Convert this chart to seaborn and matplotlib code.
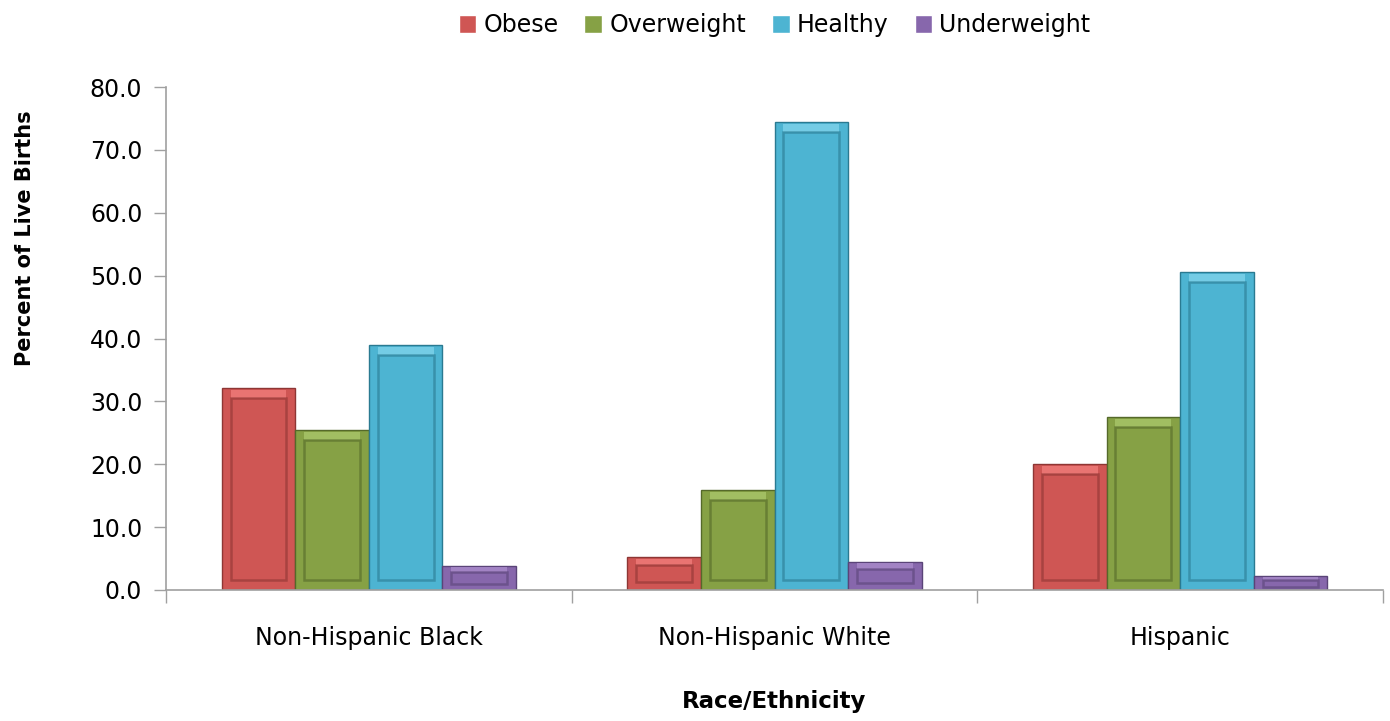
import pandas as pd
import matplotlib.pyplot as plt
import matplotlib.patches as mpatches
import seaborn as sns

# --- Data ---
groups = ["Non-Hispanic Black", "Non-Hispanic White", "Hispanic"]
categories = ["Obese", "Overweight", "Healthy", "Underweight"]
obese = [32.1, 5.2, 20.0]
overweight = [25.4, 15.9, 27.5]
healthy = [39.0, 74.4, 50.6]
underweight = [3.8, 4.5, 2.2]

colors = ["#CF5654", "#86A145", "#4DB4D2", "#8767AC"]
edge_dark = ["#8E3634", "#55692A", "#2A7A91", "#5A4478"]
light = ["#F07C7A", "#A9C66A", "#7ED3EA", "#A98BCB"]

df = pd.DataFrame({
    "Race/Ethnicity": groups * 4,
    "Category": [c for c in categories for _ in groups],
    "Percent": obese + overweight + healthy + underweight,
})

sns.set_style("white")
plt.rcParams["font.family"] = ["DejaVu Sans"]
plt.rcParams["text.color"] = "black"
plt.rcParams["axes.labelcolor"] = "black"
plt.rcParams["xtick.labelcolor"] = "black"
plt.rcParams["ytick.labelcolor"] = "black"

fig = plt.figure(figsize=(13.9, 7.21), dpi=100)
ax = fig.add_axes([0.1194, 0.1817, 0.8756, 0.6976])

sns.barplot(data=df, x="Race/Ethnicity", y="Percent", hue="Category",
            order=groups, hue_order=categories, palette=colors,
            width=0.725, gap=0, ax=ax, saturation=1, legend=True)

# --- fake bevel: inset frame on each bar ---
for container, dark, lt in zip(ax.containers, edge_dark, light):
    for p in container.patches:
        p.set_edgecolor(dark)
        p.set_linewidth(1.0)
        x0, w, h = p.get_x(), p.get_width(), p.get_height()
        inset_x = w * 0.12
        inset_y = min(1.6, h * 0.25)
        top = mpatches.Rectangle((x0 + inset_x, h - inset_y), w - 2 * inset_x,
                                 inset_y * 0.8, facecolor=lt, edgecolor="none",
                                 alpha=0.8, zorder=p.get_zorder() + 0.05)
        ax.add_patch(top)
        inner = mpatches.Rectangle((x0 + inset_x, inset_y), w - 2 * inset_x,
                                   max(h - 2 * inset_y, 0), fill=False,
                                   edgecolor=dark, linewidth=1.8, alpha=0.6,
                                   zorder=p.get_zorder() + 0.1)
        ax.add_patch(inner)

ax.set_ylim(0, 80)
ax.set_xlim(-0.5, 2.5)
ax.set_yticks(range(0, 81, 10))
ax.set_yticklabels([f"{v:.1f}" for v in range(0, 81, 10)], fontsize=17)
ax.tick_params(axis="y", length=9, width=1, color="#A0A0A0", pad=8, left=True)
ax.tick_params(axis="x", which="major", length=0, labelsize=17, pad=26)
ax.set_xticks([-0.5, 0.5, 1.5, 2.5], minor=True)
ax.tick_params(axis="x", which="minor", length=9, width=1, color="#A0A0A0",
               bottom=True)

for s in ["top", "right"]:
    ax.spines[s].set_visible(False)
for s in ["left", "bottom"]:
    ax.spines[s].set_color("#A0A0A0")
    ax.spines[s].set_linewidth(1.2)

ax.set_ylabel("Percent of Live Births", fontsize=15, fontweight="bold")
ax.set_xlabel("Race/Ethnicity", fontsize=16.5, fontweight="bold")
ax.yaxis.set_label_coords(-0.1158, 0.70)
ax.yaxis.label.set_va("center")
ax.xaxis.set_label_coords(0.5, -0.222)
ax.xaxis.label.set_va("center")

ax.legend(loc="center", bbox_to_anchor=(0.5, 1.123), ncol=4, frameon=False,
          fontsize=17, handlelength=0.75, handleheight=0.75, handletextpad=0.3,
          columnspacing=1.1)

fig.savefig("out.png", dpi=100)
